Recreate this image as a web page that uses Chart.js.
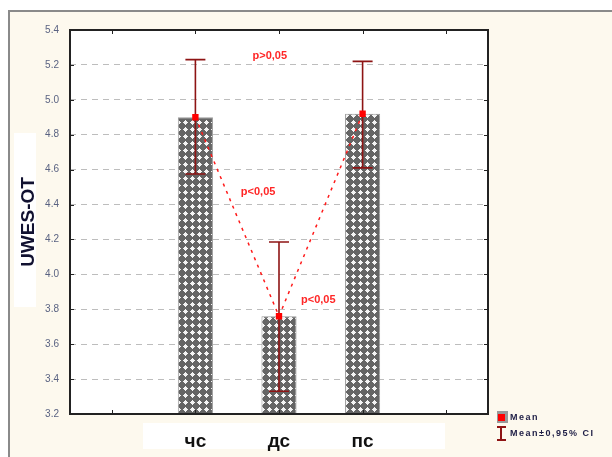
<!DOCTYPE html>
<html>
<head>
<meta charset="utf-8">
<script src="https://cdn.jsdelivr.net/npm/chart.js@4.4.1/dist/chart.umd.min.js"></script>
<style>
  html, body { margin: 0; padding: 0; background: #fff; }
  canvas { display: block; }
</style>
</head>
<body>
<canvas id="uwes" width="612" height="457"></canvas>
<script>
// categories (empty slots left and right, as in the original plot)
const categories = ['', 'чс', 'дс', 'пс', ''];
const means = [null, 4.90, 3.76, 4.92, null];
const ciLow = [null, 4.575, 3.33, 4.61, null];
const ciHigh = [null, 5.23, 4.185, 5.22, null];
const yMin = 3.2, yMax = 5.4, yStep = 0.2;

// significance notes: x as category index, y in data units
const notes = [
    { text: 'p>0,05', x: 1.89, y: 5.25 },
    { text: 'p<0,05', x: 1.75, y: 4.47 },
    { text: 'p<0,05', x: 2.47, y: 3.853 }
];
const legendItems = ['Mean', 'Mean±0,95% CI'];

// dotted-cross fill for the bars
function crossPattern() {
    const c = document.createElement('canvas');
    c.width = 7; c.height = 7;
    const g = c.getContext('2d');
    g.fillStyle = '#656565';
    g.fillRect(0, 0, 7, 7);
    g.fillStyle = '#f4f4f4';
    g.fillRect(1, 3, 5, 1);
    g.fillRect(3, 1, 1, 5);
    g.fillRect(2, 2, 3, 3);
    return g.createPattern(c, 'repeat');
}

const background = {
    id: 'background',
    beforeDraw(chart) {
        const ctx = chart.ctx;
        const a = chart.chartArea;
        ctx.save();
        ctx.fillStyle = '#fff';
        ctx.fillRect(0, 0, chart.width, chart.height);
        ctx.fillStyle = '#fdf9ee';
        ctx.fillRect(9, 11, chart.width, chart.height);
        ctx.fillStyle = '#8a8a8a';
        ctx.fillRect(8, 10, chart.width, 2);
        ctx.fillRect(8, 10, 2, chart.height);
        // white patches behind the axis title and category labels
        ctx.fillStyle = '#fff';
        ctx.fillRect(14, 133, 22, 174);
        ctx.fillRect(143, 423, 302, 26);
        ctx.fillRect(a.left, a.top, a.right - a.left, a.bottom - a.top);
        ctx.restore();
    }
};

const errorBars = {
    id: 'errorBars',
    afterDatasetDraw(chart, args) {
        if (args.index !== 0) return;
        const ctx = chart.ctx;
        const x = chart.scales.x, y = chart.scales.y;
        ctx.save();
        ctx.strokeStyle = '#8e1414';
        ctx.lineWidth = 1.6;
        for (let i = 0; i < categories.length; i++) {
            if (means[i] === null) continue;
            const px = x.getPixelForValue(i);
            const lo = y.getPixelForValue(ciLow[i]);
            const hi = y.getPixelForValue(ciHigh[i]);
            ctx.beginPath();
            ctx.moveTo(px, lo); ctx.lineTo(px, hi);
            ctx.moveTo(px - 10, lo); ctx.lineTo(px + 10, lo);
            ctx.moveTo(px - 10, hi); ctx.lineTo(px + 10, hi);
            ctx.stroke();
        }
        ctx.restore();
    }
};

const frame = {
    id: 'frame',
    afterDatasetsDraw(chart) {
        const ctx = chart.ctx;
        const a = chart.chartArea;
        const x = chart.scales.x, y = chart.scales.y;
        ctx.save();
        ctx.strokeStyle = '#222';
        ctx.lineWidth = 2;
        ctx.strokeRect(a.left, a.top, a.right - a.left, a.bottom - a.top);
        ctx.lineWidth = 1;
        ctx.beginPath();
        for (let i = 0; i < categories.length; i++) {
            const px = Math.round(x.getPixelForValue(i)) + 0.5;
            ctx.moveTo(px, a.top); ctx.lineTo(px, a.top + 4);
            ctx.moveTo(px, a.bottom); ctx.lineTo(px, a.bottom - 4);
        }
        y.ticks.forEach(t => {
            const py = Math.round(y.getPixelForValue(t.value)) + 0.5;
            ctx.moveTo(a.left, py); ctx.lineTo(a.left + 4, py);
            ctx.moveTo(a.right, py); ctx.lineTo(a.right - 4, py);
        });
        ctx.stroke();

        // p-value notes
        ctx.fillStyle = '#ff2626';
        ctx.font = 'bold 11px "Liberation Sans", Arial, sans-serif';
        ctx.textAlign = 'center';
        ctx.textBaseline = 'middle';
        notes.forEach(n => {
            ctx.fillText(n.text, x.getPixelForValue(n.x), y.getPixelForValue(n.y));
        });

        // legend
        const lx = 497, ly = 411;
        ctx.fillStyle = '#999';
        ctx.fillRect(lx, ly, 11, 12);
        ctx.fillStyle = '#ff0000';
        ctx.fillRect(lx + 1, ly + 3, 7, 7);
        ctx.strokeStyle = '#8e1414';
        ctx.lineWidth = 2;
        ctx.beginPath();
        ctx.moveTo(lx + 4, ly + 16); ctx.lineTo(lx + 4, ly + 29);
        ctx.moveTo(lx, ly + 16); ctx.lineTo(lx + 9, ly + 16);
        ctx.moveTo(lx, ly + 29); ctx.lineTo(lx + 9, ly + 29);
        ctx.stroke();
        ctx.fillStyle = '#1d1d45';
        ctx.font = 'bold 9px "Liberation Sans", Arial, sans-serif';
        ctx.letterSpacing = '1.5px';
        ctx.textAlign = 'left';
        ctx.fillText(legendItems[0], lx + 13, ly + 7);
        ctx.fillText(legendItems[1], lx + 13, ly + 23);
        ctx.restore();
    }
};

new Chart(document.getElementById('uwes'), {
    type: 'bar',
    data: {
        labels: categories,
        datasets: [{
            data: means,
            backgroundColor: crossPattern(),
            borderColor: '#9a9a9a',
            borderWidth: 1,
            barPercentage: 0.42,
            categoryPercentage: 1,
            order: 2
        }, {
            type: 'line',
            data: means,
            borderColor: '#ff1a1a',
            borderWidth: 1.5,
            borderDash: [3, 5],
            tension: 0,
            pointStyle: 'rect',
            pointRadius: 4.5,
            pointBackgroundColor: '#ff0000',
            pointBorderWidth: 0,
            order: 1
        }]
    },
    options: {
        responsive: false,
        animation: false,
        layout: {
            padding: { left: 8, top: 30, right: 124, bottom: 0 }
        },
        plugins: {
            legend: { display: false },
            tooltip: { enabled: false }
        },
        scales: {
            x: {
                afterFit: s => { s.height = 43; },
                grid: { display: false, drawTicks: false },
                border: { display: false },
                ticks: {
                    padding: 16,
                    color: '#111',
                    font: { family: '"Liberation Sans", Arial, sans-serif', size: 19, weight: 'bold' }
                }
            },
            y: {
                min: yMin,
                max: yMax,
                afterFit: s => { s.width = 62; },
                grid: { color: '#bdbdbd', lineWidth: 1, drawTicks: false },
                border: { display: false, dash: [6, 5] },
                ticks: {
                    stepSize: yStep,
                    padding: 11,
                    color: '#5a6382',
                    font: { family: '"Liberation Sans", Arial, sans-serif', size: 10 },
                    callback: v => v.toFixed(1)
                },
                title: {
                    display: true,
                    text: 'UWES-OT',
                    color: '#111130',
                    padding: { top: 9, bottom: 0 },
                    font: { family: '"Liberation Sans", Arial, sans-serif', size: 19, weight: 'bold' }
                }
            }
        }
    },
    plugins: [background, errorBars, frame]
});
</script>
</body>
</html>
